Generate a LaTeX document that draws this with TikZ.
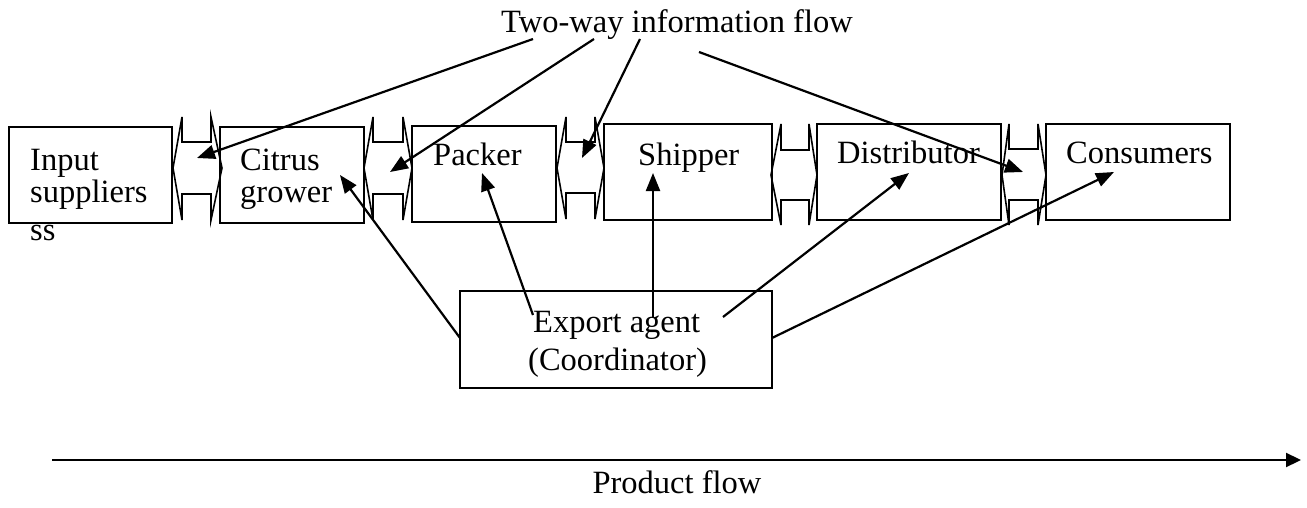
\documentclass[tikz,border=0pt]{standalone}
\usepackage{fontspec}
\setmainfont{Liberation Serif}
\usetikzlibrary{arrows.meta}
\newcommand\twoarrow[9]{\draw[dbl] (#1,#9) -- (#2,#5) -- (#2,#6) -- (#3,#6) -- (#3,#5) -- (#4,#9) -- (#3,#8) -- (#3,#7) -- (#2,#7) -- (#2,#8) -- cycle;}
\begin{document}
\begin{tikzpicture}[x=1pt,y=-1pt,
  box/.style={draw, line width=2pt, inner sep=0pt},
  txt/.style={inner sep=0pt, anchor=base west, font=\fontsize{32.5}{37}\selectfont},
  dbl/.style={draw, line width=1.6pt, line join=miter},
  arr/.style={line width=2.2pt, -{Triangle[length=18pt,width=14pt]}}]
\useasboundingbox (0,0) rectangle (1307,508);

% boxes
\node[box, minimum width=163pt, minimum height=96pt] (input) at (90.5,175) {};
\node[box, minimum width=144pt, minimum height=96pt] (grower) at (292,175) {};
\node[box, minimum width=144pt, minimum height=96pt] (packer) at (484,174) {};
\node[box, minimum width=168pt, minimum height=96pt] (shipper) at (688,172) {};
\node[box, minimum width=184pt, minimum height=96pt] (distributor) at (909,172) {};
\node[box, minimum width=184pt, minimum height=96pt] (consumers) at (1138,172) {};
\node[box, minimum width=312pt, minimum height=97pt] (agent) at (616,339.5) {};

% two-way block arrows
\twoarrow{173}{182}{211}{222}{117}{142}{194}{220}{168}
\twoarrow{364}{373}{403}{412}{117}{142}{194}{220}{168}
\twoarrow{557}{566}{595}{604}{117}{142}{193}{219}{168}
\twoarrow{771}{781}{809}{817}{124}{150}{200}{225}{175}
\twoarrow{1002}{1009}{1038}{1046}{124}{149}{200}{225}{175}

% texts
\node[txt, anchor=base] (info) at (677,33) {Two-way information flow};
\node[txt] (t-input) at (30,171) {Input};
\node[txt] (t-suppl) at (30,203) {suppliers};
\node[txt] (t-ss) at (30,240) {ss};
\node[txt] (t-citrus) at (240,171) {Citrus};
\node[txt] (t-grower) at (240,203) {grower};
\node[txt] (t-packer) at (433,165) {Packer};
\node[txt] (t-shipper) at (638,165) {Shipper};
\node[txt] (t-distr) at (837,164) {Distributor};
\node[txt] (t-cons) at (1066,164) {Consumers};
\node[txt] (t-export) at (533,332) {Export agent};
\node[txt] (t-coord) at (528,370) {(Coordinator)};
\node[txt, anchor=base] (t-product) at (677,493) {Product flow};

% information flow connectors
\coordinate (s1) at (533,39);
\coordinate (s2) at (594,39);
\coordinate (s3) at (640,39);
\coordinate (s4) at (699,52);
\coordinate (e1) at (197,158);
\coordinate (e2) at (390,172);
\coordinate (e3) at (582,158);
\coordinate (e4) at (1023,172);
\draw[arr] (s1) -- (e1);
\draw[arr] (s2) -- (e2);
\draw[arr] (s3) -- (e3);
\draw[arr] (s4) -- (e4);

% coordinator connectors
\coordinate (a1) at (460,338);
\coordinate (a2) at (533,315);
\coordinate (a3) at (653,317);
\coordinate (a4) at (723,317);
\coordinate (a5) at (772,338);
\coordinate (g1) at (340,175);
\coordinate (g2) at (482,173);
\coordinate (g3) at (653,173);
\coordinate (g4) at (909,173);
\coordinate (g5) at (1114,172);
\draw[arr] (a1) -- (g1);
\draw[arr] (a2) -- (g2);
\draw[arr] (a3) -- (g3);
\draw[arr] (a4) -- (g4);
\draw[arr] (a5) -- (g5);

% product flow
\coordinate (p1) at (52,460);
\coordinate (p2) at (1301,460);
\draw[line width=2.2pt, -{Triangle[length=15pt,width=14pt]}] (p1) -- (p2);
\end{tikzpicture}
\end{document}
